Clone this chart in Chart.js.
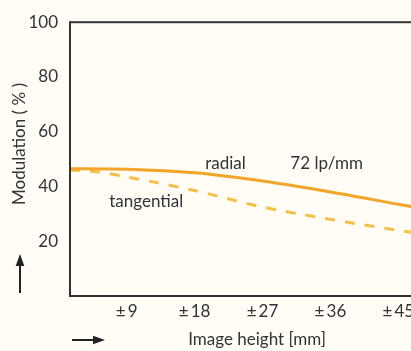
<!DOCTYPE html>
<html>
<head>
<meta charset="utf-8">
<script src="https://cdn.jsdelivr.net/npm/chart.js@4"></script>
<style>
  html, body { margin: 0; padding: 0; background: #fffdf6; overflow: hidden; }
  #wrap { width: 425px; height: 351px; }
</style>
</head>
<body>
<div id="wrap"><canvas id="mtfChart"></canvas></div>
<script>
// image height (mm) and modulation (%)
const radialX = [1.5, 9, 18, 27, 36, 45, 48];
const radialY = [46.5, 46.3, 45, 42, 38, 33.5, 32];
const tangX = [1.5, 4.5, 9, 18, 27, 36, 45, 48];
const tangY = [46, 45.6, 43.5, 38.5, 32.5, 28, 24, 22.8];
const xTicks = [9, 18, 27, 36, 45];
const yTicks = [20, 40, 60, 80, 100];

// text labels in data units
const notes = [
    { text: "radial", x: 22.1, y: 48.3 },
    { text: "72 lp/mm", x: 35.5, y: 48.5 },
    { text: "tangential", x: 11.6, y: 34.5 }
];

const FONT = "Lato, 'DejaVu Sans', sans-serif";

function pts(xs, ys){
    return xs.map((x, i) => ({ x: x, y: ys[i] }));
}

function arrow(ctx, x1, y1, x2, y2){
    ctx.beginPath();
    ctx.moveTo(x1, y1);
    ctx.lineTo(x2, y2);
    ctx.stroke();
    let a = Math.atan2(y2 - y1, x2 - x1);
    ctx.beginPath();
    ctx.moveTo(x2 + Math.cos(a) * 3, y2 + Math.sin(a) * 3);
    ctx.lineTo(x2 - Math.cos(a - 0.45) * 10, y2 - Math.sin(a - 0.45) * 10);
    ctx.lineTo(x2 - Math.cos(a + 0.45) * 10, y2 - Math.sin(a + 0.45) * 10);
    ctx.closePath();
    ctx.fill();
}

// frame, notes, titles and arrows
const decor = {
    id: 'decor',
    afterDatasetsDraw(chart){
        const ctx = chart.ctx;
        const a = chart.chartArea;
        const xs = chart.scales.x, ys = chart.scales.y;
        ctx.save();
        ctx.strokeStyle = "#333";
        ctx.lineWidth = 2;
        ctx.strokeRect(a.left, a.top, a.right - a.left, a.bottom - a.top);

        ctx.fillStyle = "#333";
        ctx.font = "17px " + FONT;
        ctx.textAlign = "center";
        ctx.textBaseline = "middle";
        notes.forEach(n => {
            ctx.fillText(n.text, xs.getPixelForValue(n.x), ys.getPixelForValue(n.y));
        });

        ctx.fillText("Image height [mm]", 257, 340);

        ctx.save();
        ctx.translate(20, 144);
        ctx.rotate(-Math.PI / 2);
        ctx.fillText("Modulation ( % )", 0, 0);
        ctx.restore();

        ctx.strokeStyle = "#222";
        ctx.fillStyle = "#222";
        ctx.lineWidth = 2;
        arrow(ctx, 20, 293, 20, 257);
        arrow(ctx, 72, 340, 102, 340);
        ctx.restore();
    }
};

new Chart(document.getElementById("mtfChart"), {
    type: 'line',
    data: {
        datasets: [{
            label: "radial",
            data: pts(radialX, radialY),
            borderColor: "#f3a52a",
            borderWidth: 3,
            pointRadius: 0,
            fill: false,
            tension: 0.4,
            cubicInterpolationMode: 'monotone'
        }, {
            label: "tangential",
            data: pts(tangX, tangY),
            borderColor: "#f5c048",
            borderWidth: 3,
            borderDash: [10, 10],
            pointRadius: 0,
            fill: false,
            tension: 0.4,
            cubicInterpolationMode: 'monotone'
        }]
    },
    options: {
        responsive: true,
        maintainAspectRatio: false,
        animation: false,
        layout: { padding: { top: 17, right: 4, left: 0, bottom: 0 } },
        plugins: {
            legend: { display: false },
            tooltip: { enabled: false }
        },
        scales: {
            x: {
                type: 'linear',
                min: 1.5,
                max: 48,
                afterBuildTicks: s => { s.ticks = xTicks.map(v => ({ value: v })); },
                afterFit: s => { s.height = 55; },
                grid: { display: false, drawTicks: false },
                border: { display: false },
                ticks: {
                    padding: 5,
                    color: "#333",
                    font: { family: FONT, size: 17 },
                    callback: v => "\u00b1\u2009" + v
                }
            },
            y: {
                min: 0,
                max: 100,
                afterBuildTicks: s => { s.ticks = yTicks.map(v => ({ value: v })); },
                afterFit: s => { s.width = 70; },
                grid: { display: false, drawTicks: false },
                border: { display: false },
                ticks: {
                    padding: 12,
                    color: "#333",
                    font: { family: FONT, size: 17 }
                }
            }
        }
    },
    plugins: [decor]
});
</script>
</body>
</html>
